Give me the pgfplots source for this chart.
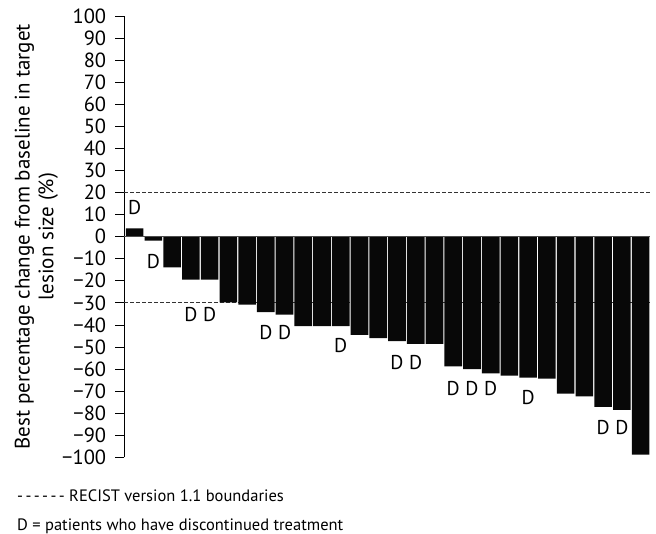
\documentclass[border=0pt]{standalone}
\usepackage{fontspec}
\setmainfont{PT Sans}
\usepackage{pgfplots}
\pgfplotsset{compat=1.18}
\newcommand{\hy}{-\kern2.4pt}
\begin{document}
\begin{tikzpicture}
\useasboundingbox (-124.3pt,-76.7pt) rectangle (531.7pt,457.3pt);
\begin{axis}[
  scale only axis,
  width=525.7pt, height=441.3pt,
  at={(0pt,0pt)}, anchor=south west,
  xmin=0.45, xmax=28.5,
  ymin=-100, ymax=100,
  axis x line=none,
  axis y line=left,
  axis line style={-, line width=0.8pt, black},
  tick align=outside,
  major tick length=9pt,
  tick style={line width=0.8pt, black},
  ytick={-100,-90,-80,-70,-60,-50,-40,-30,-20,-10,0,10,20,30,40,50,60,70,80,90,100},
  yticklabels={−100,−90,−80,−70,−60,−50,−40,−30,−20,−10,0,10,20,30,40,50,60,70,80,90,100},
  yticklabel style={font=\fontsize{20.5}{24}\selectfont, inner sep=0pt, xshift=-9pt},
  ylabel={Best percentage change from baseline in target\\lesion size (\%)},
  ylabel style={align=center, font=\fontsize{21}{24}\selectfont, inner sep=0pt,
    at={(axis description cs:-0.1255,0.5)}, anchor=south},
  clip=false,
]
% RECIST boundaries
\addplot[black!80, line width=0.8pt, dash pattern=on 4pt off 2pt] coordinates {(0.45,20) (28.5,20)};
\addplot[black!80, line width=0.8pt, dash pattern=on 4pt off 2pt] coordinates {(0.45,-30) (28.5,-30)};
% bars
\addplot[ybar, bar width=17.6pt, fill=black!97, draw=none] coordinates {
(1,3.8) (2,-1.8) (3,-13.9) (4,-19.5) (5,-19.5) (6,-29.8) (7,-30.8) (8,-34.2)
(9,-35.3) (10,-40.6) (11,-40.6) (12,-40.6) (13,-44.5) (14,-46.0) (15,-47.4)
(16,-48.6) (17,-48.6) (18,-58.8) (19,-60.0) (20,-62.0) (21,-63.0) (22,-63.9)
(23,-64.4) (24,-71.2) (25,-72.4) (26,-77.1) (27,-78.5) (28,-98.8)};
% zero line
\addplot[black!70, line width=0.7pt] coordinates {(0.45,0) (28.5,0)};
% discontinued markers
\addplot[draw=none, mark=none, nodes near coords={D},
  every node near coord/.style={anchor=center, inner sep=0pt, font=\fontsize{20}{24}\selectfont}]
  coordinates {(1,13) (2,-11.4) (4,-35.1) (5,-35.1) (8,-43.3) (9,-43.3) (12,-49.5)
  (15,-57.1) (16,-57.1) (18,-69.0) (19,-69.0) (20,-69.0) (22,-73.0) (26,-86.6) (27,-86.6)};
\end{axis}
\node[anchor=base west, inner sep=0pt, font=\fontsize{16.5}{20}\selectfont] at (-107.3pt,-44.7pt) {\hy\hy\hy\hy\hy- RECIST version 1.1 boundaries};
\node[anchor=base west, inner sep=0pt, font=\fontsize{16.5}{20}\selectfont] at (-107.3pt,-73.5pt) {D = patients who have discontinued treatment};
\end{tikzpicture}
\end{document}
